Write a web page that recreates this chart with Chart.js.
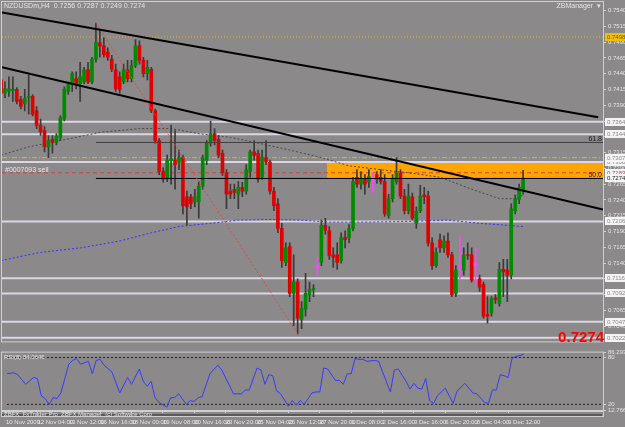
<!DOCTYPE html>
<html>
<head>
<meta charset="utf-8">
<script src="https://cdn.jsdelivr.net/npm/chart.js@4.4.1/dist/chart.umd.min.js"></script>
<style>
  html, body { margin: 0; padding: 0; background: #8b8989; }
  #wrap { position: relative; width: 625px; height: 427px; overflow: hidden; }
  #mainChart { position: absolute; left: 0; top: 0; }
  #rsiChart { position: absolute; left: 0; top: 347px; }
</style>
</head>
<body>
<div id="wrap">
  <canvas id="mainChart" width="625" height="347"></canvas>
  <canvas id="rsiChart" width="625" height="80"></canvas>
</div>
<script>
// NZDUSD H4 candles, one per bar index
const opens = [0.7430,0.7409,0.7412,0.7413,0.7415,0.7399,0.7392,0.7402,0.7404,0.7381,0.7358,0.7350,0.7324,0.7336,0.7331,0.7339,0.7368,0.7412,0.7423,0.7432,
  0.7424,0.7427,0.7446,0.7427,0.7463,0.7489,0.7484,0.7474,0.7463,0.7446,0.7435,0.7427,0.7446,0.7432,0.7453,0.7484,0.7461,0.7440,0.7447,0.7381,
  0.7334,0.7285,0.7273,0.7302,0.7303,0.7299,0.7307,0.7245,0.7245,0.7237,0.7237,0.7262,0.7303,0.7330,0.7345,0.7336,0.7314,0.7283,0.7254,0.7257,
  0.7249,0.7260,0.7254,0.7285,0.7316,0.7314,0.7276,0.7307,0.7300,0.7254,0.7234,0.7195,0.7141,0.7166,0.7092,0.7110,0.7051,0.7067,0.7090,0.7098,
  0.7133,0.7141,0.7200,0.7191,0.7153,0.7153,0.7144,0.7181,0.7180,0.7195,0.7276,0.7265,0.7273,0.7268,0.7269,0.7280,0.7276,0.7269,0.7215,0.7242,
  0.7269,0.7283,0.7246,0.7223,0.7245,0.7203,0.7223,0.7248,0.7246,0.7172,0.7136,0.7177,0.7164,0.7175,0.7153,0.7092,0.7133,0.7129,0.7153,0.7153,
  0.7136,0.7115,0.7106,0.7059,0.7061,0.7085,0.7076,0.7130,0.7129,0.7121,0.7223,0.7241,0.7256];
const highs = [0.7435,0.7427,0.7435,0.7435,0.7418,0.7404,0.7415,0.7438,0.7407,0.7388,0.7368,0.7356,0.7342,0.7342,0.7345,0.7373,0.7419,0.7427,0.7443,0.7443,
  0.7458,0.7450,0.7458,0.7466,0.7520,0.7508,0.7497,0.7481,0.7469,0.7455,0.7443,0.7455,0.7461,0.7461,0.7494,0.7492,0.7466,0.7461,0.7450,0.7384,
  0.7337,0.7291,0.7311,0.7358,0.7350,0.7319,0.7311,0.7254,0.7249,0.7257,0.7269,0.7311,0.7334,0.7365,0.7353,0.7342,0.7319,0.7288,0.7265,0.7265,
  0.7269,0.7268,0.7296,0.7319,0.7334,0.7319,0.7319,0.7334,0.7303,0.7260,0.7242,0.7203,0.7172,0.7172,0.7153,0.7115,0.7079,0.7124,0.7110,0.7106,
  0.7149,0.7208,0.7211,0.7198,0.7164,0.7172,0.7188,0.7191,0.7201,0.7276,0.7288,0.7285,0.7280,0.7288,0.7283,0.7285,0.7288,0.7280,0.7249,0.7280,
  0.7307,0.7288,0.7257,0.7265,0.7251,0.7229,0.7263,0.7260,0.7254,0.7180,0.7164,0.7186,0.7183,0.7188,0.7157,0.7136,0.7183,0.7164,0.7172,0.7164,
  0.7164,0.7121,0.7110,0.7087,0.7087,0.7090,0.7141,0.7146,0.7146,0.7234,0.7248,0.7265,0.7287];
const lows = [0.7404,0.7402,0.7404,0.7396,0.7392,0.7384,0.7381,0.7376,0.7373,0.7353,0.7342,0.7316,0.7307,0.7314,0.7327,0.7334,0.7365,0.7407,0.7412,0.7416,
  0.7396,0.7424,0.7424,0.7424,0.7458,0.7466,0.7466,0.7461,0.7443,0.7412,0.7409,0.7424,0.7427,0.7427,0.7450,0.7455,0.7435,0.7430,0.7378,0.7330,
  0.7280,0.7268,0.7269,0.7265,0.7257,0.7288,0.7218,0.7200,0.7226,0.7229,0.7211,0.7257,0.7296,0.7325,0.7327,0.7307,0.7279,0.7226,0.7242,0.7242,
  0.7226,0.7245,0.7249,0.7276,0.7303,0.7268,0.7273,0.7296,0.7249,0.7223,0.7188,0.7133,0.7136,0.7087,0.7041,0.7028,0.7036,0.7056,0.7079,0.7087,
  0.7121,0.7136,0.7186,0.7146,0.7133,0.7130,0.7140,0.7164,0.7172,0.7191,0.7260,0.7257,0.7249,0.7260,0.7252,0.7266,0.7265,0.7214,0.7211,0.7237,
  0.7265,0.7242,0.7218,0.7218,0.7208,0.7195,0.7220,0.7234,0.7167,0.7130,0.7133,0.7157,0.7157,0.7149,0.7087,0.7087,0.7115,0.7121,0.7146,0.7110,
  0.7107,0.7095,0.7053,0.7045,0.7056,0.7076,0.7072,0.7087,0.7079,0.7115,0.7218,0.7234,0.7249];
const closes = [0.7409,0.7416,0.7416,0.7415,0.7396,0.7388,0.7401,0.7404,0.7376,0.7358,0.7348,0.7324,0.7334,0.7331,0.7341,0.7370,0.7415,0.7423,0.7440,0.7423,
  0.7435,0.7446,0.7427,0.7463,0.7489,0.7484,0.7470,0.7466,0.7447,0.7416,0.7415,0.7446,0.7432,0.7453,0.7484,0.7461,0.7440,0.7450,0.7381,0.7334,
  0.7285,0.7273,0.7303,0.7305,0.7296,0.7307,0.7231,0.7229,0.7234,0.7245,0.7262,0.7307,0.7330,0.7345,0.7334,0.7311,0.7283,0.7249,0.7249,0.7252,
  0.7260,0.7254,0.7288,0.7316,0.7311,0.7273,0.7308,0.7300,0.7254,0.7231,0.7195,0.7144,0.7164,0.7092,0.7110,0.7053,0.7068,0.7092,0.7098,0.7099,
  0.7136,0.7200,0.7192,0.7152,0.7149,0.7141,0.7180,0.7177,0.7195,0.7269,0.7265,0.7273,0.7265,0.7277,0.7273,0.7273,0.7269,0.7218,0.7242,0.7273,
  0.7283,0.7246,0.7223,0.7246,0.7211,0.7222,0.7246,0.7245,0.7172,0.7136,0.7157,0.7164,0.7175,0.7153,0.7090,0.7129,0.7136,0.7152,0.7152,0.7113,
  0.7140,0.7102,0.7056,0.7056,0.7084,0.7082,0.7130,0.7126,0.7121,0.7226,0.7242,0.7260,0.7274];
const markerBars = [80, 94, 116, 120];   // bars painted magenta

// moving averages (bar index, price)
const maGrayIdx = [0, 7, 15, 25, 35, 43, 50, 58, 65, 73, 81, 88, 96, 103, 111, 119, 126, 130, 132];
const maGrayVal = [0.7311,0.7324,0.7334,0.7347,0.7353,0.7353,0.7345,0.7339,0.7330,0.7319,0.7307,0.7294,0.7288,0.7283,0.7276,0.7257,0.7242,0.7242,0.7248];
const maBlueIdx = [0, 10, 20, 30, 38, 45, 53, 60, 68, 76, 83, 93, 103, 113, 121, 132];
const maBlueVal = [0.7144,0.7157,0.7164,0.7175,0.7188,0.7198,0.7203,0.7208,0.7209,0.7208,0.7205,0.7205,0.7206,0.7208,0.7203,0.7198];

// drawn objects
const upperTrend = [[0.25, 0.7537], [151, 0.7371]];
const lowerTrend = [[0.25, 0.7450], [152.2, 0.7225]];
const fibFrom = 24, fibTo = 75;                 // high bar / low bar of the fibo
const fibLevels = [0.7331, 0.7274];
const fibNames = ['61.8', '50.0'];
const srLevels = [0.7364, 0.7344, 0.7300, 0.7206, 0.7116, 0.7092, 0.7047, 0.7022];
const goldTop = 0.7498, goldMid = 0.7307, sellLevel = 0.7283;
const zoneStart = 82.4, zoneTop = 0.7300, zoneBottom = 0.7275;
const lastPrice = 0.7274;

const priceTicks = [0.7540,0.7515,0.7490,0.7465,0.7440,0.7415,0.7390,0.7365,0.7340,0.7315,0.7290,0.7265,0.7240,0.7215,0.7190,0.7165,0.7140,0.7115,0.7090,0.7065,0.7040];

// RSI(8)
const rsiIdx = [0,2,3,5,7,8,9,10,11,12,13,14,16,17,18,19,21,22,23,24,25,27,29,31,32,34,35,36,37,38,39,41,42,43,44,46,47,48,49,50,
  52,54,55,58,59,60,61,62,64,65,66,67,68,69,70,72,73,74,75,76,78,79,80,81,82,84,85,86,87,88,89,90,91,92,94,95,96,98,99,100,
  102,103,104,105,106,107,108,109,110,112,114,115,117,119,120,122,123,124,125,126,127,128,129,130,132];
const rsiVal = [59.2,60.4,58.0,45.7,54.3,53.1,31.0,27.4,20.0,28.6,27.4,34.7,71.4,76.3,78.8,71.4,75.1,59.2,76.3,77.6,70.2,61.6,34.7,54.3,45.7,65.3,49.4,43.3,49.4,28.6,22.5,16.4,28.6,28.6,33.5,20.0,24.9,23.7,28.6,29.8,
  59.2,70.2,64.1,33.5,33.5,33.5,38.4,38.4,66.5,64.1,45.7,58.0,56.7,37.2,33.5,17.6,24.9,18.8,24.9,20.0,34.7,35.9,35.9,66.5,65.3,50.6,50.6,45.7,59.2,59.2,78.8,77.6,77.6,75.1,76.3,75.1,61.6,35.9,64.1,65.3,
  49.4,39.6,47.0,40.8,39.6,53.1,24.9,21.2,31.0,40.8,21.2,37.2,47.0,34.7,33.5,22.5,21.2,38.4,38.4,57.9,56.7,54.3,78.8,81.2,84.06];
const rsiLevels = [80, 20];
const rsiTicks = [86.2931, 80, 20, 12.766];

const dateTicks = [0, 8, 16, 24, 32, 40, 48, 56, 64, 72, 80, 88, 96, 104, 112, 120, 128];
const dateLabels = ['10 Nov 2009','12 Nov 04:00','13 Nov 12:00','16 Nov 16:00','18 Nov 00:00','19 Nov 08:00','20 Nov 16:00','23 Nov 20:00','25 Nov 04:00',
  '26 Nov 12:00','27 Nov 20:00','1 Dec 08:00','2 Dec 16:00','3 Dec 16:00','6 Dec 20:00','8 Dec 04:00','9 Dec 12:00'];

document.addEventListener('DOMContentLoaded', () => {
    const BG = '#8b8989';
    const TXT = '#e6e6e6';
    const FAMILY = '"Liberation Sans Narrow", "Liberation Sans", sans-serif';
    const FONT = { family: FAMILY, size: 6 };
    const X_MIN = 0.25, X_MAX = 152.2;

    const idx = opens.map((_, i) => i);
    const isUp = i => closes[i] >= opens[i];
    const bodyColor = i => markerBars.includes(i) ? '#ff44ff' : (isUp(i) ? '#008a00' : '#e00000');
    const wickColor = i => markerBars.includes(i) ? '#ff44ff' : '#3a3a3a';

    const hLine = (y, from) => [{ x: from === undefined ? X_MIN : from, y }, { x: X_MAX, y }];
    const lineSet = (data, color, width, dash, order) => ({
        type: 'line', data, borderColor: color, borderWidth: width, borderDash: dash || [],
        pointRadius: 0, tension: 0, order
    });

    // Background fill
    const background = {
        id: 'background',
        beforeDraw(chart) {
            const { ctx, width, height } = chart;
            ctx.save();
            ctx.fillStyle = BG;
            ctx.fillRect(0, 0, width, height);
            ctx.restore();
        }
    };

    // Orange zone under the candles
    const zone = {
        id: 'zone',
        beforeDatasetsDraw(chart) {
            const { ctx, chartArea, scales: { x, y } } = chart;
            const left = x.getPixelForValue(zoneStart);
            const top = y.getPixelForValue(zoneTop);
            const bottom = y.getPixelForValue(zoneBottom);
            ctx.save();
            ctx.fillStyle = '#ffa500';
            ctx.fillRect(left, top, chartArea.right - left, bottom - top);
            ctx.restore();
        }
    };

    // Texts and price boxes
    const mainText = {
        id: 'mainText',
        afterDraw(chart) {
            const { ctx, chartArea, scales: { y } } = chart;
            ctx.save();
            ctx.strokeStyle = '#cfcfcf';
            ctx.lineWidth = 1;
            ctx.strokeRect(1.5, 1.5, chartArea.right - 1, chartArea.bottom - 1);

            ctx.font = '7px ' + FAMILY;
            ctx.textBaseline = 'middle';
            ctx.fillStyle = TXT;
            ctx.textAlign = 'left';
            ctx.fillText('NZDUSDm,H4  0.7256 0.7287 0.7249 0.7274', 4, 6);
            ctx.fillText('#0007093 sell', 5, y.getPixelForValue(sellLevel) - 3);
            ctx.textAlign = 'right';
            ctx.fillText('ZBManager  \u25BE', chartArea.right - 2, 6);
            ctx.fillStyle = '#202020';
            fibLevels.forEach((v, k) => ctx.fillText(fibNames[k], chartArea.right - 1, y.getPixelForValue(v) - 3));

            // boxes on the price axis
            ctx.font = '6px ' + FAMILY;
            const box = (v, fill, color) => {
                const py = Math.round(y.getPixelForValue(v));
                ctx.fillStyle = fill;
                ctx.fillRect(chartArea.right + 2, py - 4, 21, 8);
                ctx.fillStyle = color;
                ctx.textAlign = 'left';
                ctx.fillText(v.toFixed(4), chartArea.right + 4, py);
            };
            srLevels.forEach(v => box(v, '#f4f4f4', '#8a8a8a'));
            box(goldTop, '#f0c000', '#6a5a00');
            box(goldMid, '#f4f4f4', '#8a8a8a');
            box(sellLevel, '#f4f4f4', '#c04040');
            box(lastPrice, '#f4f4f4', '#202020');

            ctx.font = 'bold 15px "Liberation Sans"';
            ctx.fillStyle = '#ff0000';
            ctx.textAlign = 'right';
            ctx.fillText(lastPrice.toFixed(4), chartArea.right + 1, chartArea.bottom - 4);
            ctx.restore();
        }
    };

    const mainCtx = document.getElementById('mainChart').getContext('2d');
    new Chart(mainCtx, {
        data: {
            datasets: [
                lineSet([{ x: upperTrend[0][0], y: upperTrend[0][1] }, { x: upperTrend[1][0], y: upperTrend[1][1] }], '#000000', 2, [], 1),
                lineSet([{ x: lowerTrend[0][0], y: lowerTrend[0][1] }, { x: lowerTrend[1][0], y: lowerTrend[1][1] }], '#000000', 2, [], 1),
                lineSet([{ x: fibFrom, y: highs[fibFrom] }, { x: fibTo, y: lows[fibTo] }], '#e04848', 1, [2, 2], 2),
                lineSet(hLine(fibLevels[0], fibFrom), '#404040', 1, [], 2),
                lineSet(hLine(fibLevels[1], fibFrom), '#000000', 1, [], 2),
                {
                    type: 'bar', label: 'body', order: 3, grouped: false,
                    data: idx.map(i => ({ x: i, y: [opens[i], closes[i]] })),
                    backgroundColor: idx.map(bodyColor), barThickness: 3, minBarLength: 1
                },
                {
                    type: 'bar', label: 'wick', order: 4, grouped: false,
                    data: idx.map(i => ({ x: i, y: [lows[i], highs[i]] })),
                    backgroundColor: idx.map(wickColor), barThickness: 1
                },
                lineSet(maGrayIdx.map((x, k) => ({ x, y: maGrayVal[k] })), '#4a4a4a', 1, [2, 2], 5),
                lineSet(maBlueIdx.map((x, k) => ({ x, y: maBlueVal[k] })), '#3434ff', 1, [2, 2], 5),
                lineSet(hLine(sellLevel), '#d04040', 1, [4, 3], 6),
                lineSet(hLine(goldMid), '#f0b400', 1, [5, 2, 1, 2], 6),
                lineSet(hLine(goldTop), '#f0b400', 1, [1, 2], 6),
                ...srLevels.map(v => lineSet(hLine(v), '#dcd6e6', 2, [], 7))
            ]
        },
        options: {
            responsive: false,
            animation: false,
            layout: { padding: { left: 2, top: 2, bottom: 1, right: 0 } },
            plugins: { legend: { display: false }, tooltip: { enabled: false } },
            scales: {
                x: { type: 'linear', min: X_MIN, max: X_MAX, offset: false, display: false },
                y: {
                    type: 'linear', position: 'right', min: 0.701603, max: 0.754773,
                    afterFit: s => { s.width = 22; },
                    afterBuildTicks: s => { s.ticks = priceTicks.map(value => ({ value })); },
                    ticks: { font: FONT, color: TXT, padding: 2, callback: v => v.toFixed(4) },
                    grid: { drawOnChartArea: false, tickLength: 3, color: '#d0d0d0' },
                    border: { color: '#d0d0d0' }
                }
            }
        },
        plugins: [background, zone, mainText]
    });

    // RSI window
    const rsiText = {
        id: 'rsiText',
        afterDraw(chart) {
            const { ctx, chartArea } = chart;
            ctx.save();
            ctx.strokeStyle = '#cfcfcf';
            ctx.lineWidth = 1;
            ctx.strokeRect(1.5, chartArea.top - 0.5, chartArea.right - 1, chartArea.bottom - chartArea.top + 1);
            ctx.strokeRect(1.5, chartArea.bottom + 1.5, chartArea.right - 1, 5);
            ctx.fillStyle = '#5a5a5a';
            ctx.fillRect(2, chartArea.bottom + 4, chartArea.right - 3, 2);
            ctx.font = '6px ' + FAMILY;
            ctx.textBaseline = 'middle';
            ctx.fillStyle = TXT;
            ctx.textAlign = 'left';
            ctx.fillText('RSI(8) 84.0646', 4, chartArea.top + 5);
            ctx.fillText('ZBFX  FxTrader Pro  ZBFX Manager  (c) Software Corp', 4, chartArea.bottom + 4);
            ctx.restore();
        }
    };

    const rsiCtx = document.getElementById('rsiChart').getContext('2d');
    new Chart(rsiCtx, {
        data: {
            datasets: [
                lineSet(rsiIdx.map((x, k) => ({ x, y: rsiVal[k] })), '#3a3aff', 1, [], 1),
                ...rsiLevels.map(v => lineSet(hLine(v), '#202020', 1, [2, 2], 2))
            ]
        },
        options: {
            responsive: false,
            animation: false,
            layout: { padding: { left: 2, top: 3, bottom: 0, right: 0 } },
            plugins: { legend: { display: false }, tooltip: { enabled: false } },
            scales: {
                x: {
                    type: 'linear', min: X_MIN, max: X_MAX, offset: false,
                    afterFit: s => { s.height = 17; },
                    afterBuildTicks: s => { s.ticks = dateTicks.map(value => ({ value })); },
                    ticks: {
                        font: FONT, color: TXT, padding: 6, align: 'start', maxRotation: 0, autoSkip: false,
                        callback: v => dateLabels[dateTicks.indexOf(v)]
                    },
                    grid: { drawOnChartArea: false, tickLength: 3, color: '#d0d0d0' },
                    border: { display: false }
                },
                y: {
                    type: 'linear', position: 'right', min: 12.766, max: 86.2931,
                    afterFit: s => { s.width = 22; },
                    afterBuildTicks: s => { s.ticks = rsiTicks.map(value => ({ value })); },
                    ticks: { font: FONT, color: TXT, padding: 2, callback: v => String(v) },
                    grid: { drawOnChartArea: false, tickLength: 3, color: '#d0d0d0' },
                    border: { color: '#d0d0d0' }
                }
            }
        },
        plugins: [background, rsiText]
    });
});
</script>
</body>
</html>
